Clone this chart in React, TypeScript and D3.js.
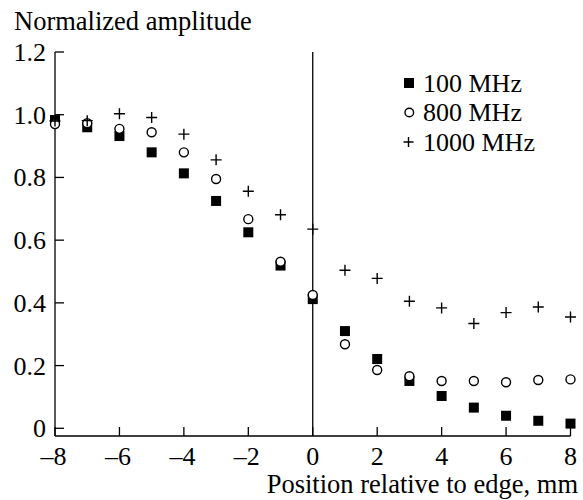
import React from "react";
import * as d3 from "d3";

const positions = [-8, -7, -6, -5, -4, -3, -2, -1, 0, 1, 2, 3, 4, 5, 6, 7, 8];
const mhz100 = [0.983, 0.96, 0.932, 0.88, 0.813, 0.725, 0.625, 0.519, 0.412, 0.31, 0.221, 0.151, 0.103, 0.066, 0.04, 0.024, 0.015];
const mhz800 = [0.97, 0.973, 0.955, 0.944, 0.88, 0.795, 0.667, 0.531, 0.425, 0.268, 0.186, 0.166, 0.151, 0.151, 0.147, 0.154, 0.156];
const mhz1000 = [0.98, 0.981, 1.003, 0.991, 0.938, 0.856, 0.756, 0.681, 0.635, 0.504, 0.478, 0.405, 0.384, 0.334, 0.369, 0.387, 0.355];
const xTicks = [-8, -6, -4, -2, 0, 2, 4, 6, 8];
const yTicks = [0, 0.2, 0.4, 0.6, 0.8, 1.0, 1.2];
const yTickLabels = ["0", "0.2", "0.4", "0.6", "0.8", "1.0", "1.2"];
const legendLabels = ["100 MHz", "800 MHz", "1000 MHz"];
const yTitle = "Normalized amplitude";
const xTitle = "Position relative to edge, mm";

const W = 583;
const H = 500;

export default function App() {
  const x = d3.scaleLinear().domain([-8, 8]).range([55, 570.5]);
  const y = d3.scaleLinear().domain([0, 1.2]).range([428.3, 52]);
  const axisY = 436;
  const fmtX = (v: number) => (v < 0 ? "\u2013" + Math.abs(v) : String(v));
  const ts = { fontFamily: '"Liberation Serif"', fontSize: "26px" } as React.CSSProperties;
  const tt = { fontFamily: '"Liberation Serif"', fontSize: "26.5px" } as React.CSSProperties;

  const square = (cx: number, cy: number, s: number, key: string) => (
    <rect key={key} x={cx - s / 2} y={cy - s / 2} width={s} height={s} fill="#000" />
  );
  const circle = (cx: number, cy: number, r: number, key: string) => (
    <circle key={key} cx={cx} cy={cy} r={r} fill="#fff" stroke="#000" strokeWidth={1.4} />
  );
  const plus = (cx: number, cy: number, s: number, key: string) => (
    <path key={key} d={`M${cx - s / 2},${cy}H${cx + s / 2}M${cx},${cy - s / 2}V${cy + s / 2}`} stroke="#000" strokeWidth={1.4} fill="none" />
  );

  const legendY = [83, 112.5, 142];

  return (
    <svg width={W} height={H} style={{ position: "absolute", left: 0, top: 0, background: "#fff" }}>
      <rect x={0} y={0} width={W} height={H} fill="#fff" />
      <text x={14} y={30} style={tt} fill="#000">{yTitle}</text>
      <line x1={x(-8)} x2={x(-8)} y1={y(1.2)} y2={axisY} stroke="#000" strokeWidth={1.3} />
      <line x1={x(-8)} x2={x(8)} y1={axisY} y2={axisY} stroke="#000" strokeWidth={1.3} />
      <line x1={x(0)} x2={x(0)} y1={y(1.2)} y2={axisY} stroke="#000" strokeWidth={1.3} />
      {yTicks.map((t, i) => (
        <g key={"yt" + i}>
          <line x1={x(-8)} x2={x(-8) + 9} y1={y(t)} y2={y(t)} stroke="#000" strokeWidth={1.3} />
          <text x={46} y={y(t) + 9} textAnchor="end" style={ts} fill="#000">{yTickLabels[i]}</text>
        </g>
      ))}
      {xTicks.map((t, i) => (
        <g key={"xt" + i}>
          <line x1={x(t)} x2={x(t)} y1={axisY} y2={axisY - 9} stroke="#000" strokeWidth={1.3} />
          <text x={x(t) - (t < 0 ? 1.5 : 0)} y={465} textAnchor="middle" style={ts} fill="#000">{fmtX(t)}</text>
        </g>
      ))}
      <text x={578} y={493} textAnchor="end" style={tt} fill="#000">{xTitle}</text>
      {positions.map((p, i) => square(x(p), y(mhz100[i]), 10, "s" + i))}
      {positions.map((p, i) => circle(x(p), y(mhz800[i]), 4.5, "c" + i))}
      {positions.map((p, i) => plus(x(p), y(mhz1000[i]), 11, "p" + i))}
      {square(409, legendY[0], 10, "ls")}
      {circle(409.3, legendY[1], 4.3, "lc")}
      {plus(408.5, legendY[2], 10, "lp")}
      {legendLabels.map((l, i) => (
        <text key={"lt" + i} x={423} y={legendY[i] + 8.5} style={ts} fill="#000">{l}</text>
      ))}
    </svg>
  );
}
